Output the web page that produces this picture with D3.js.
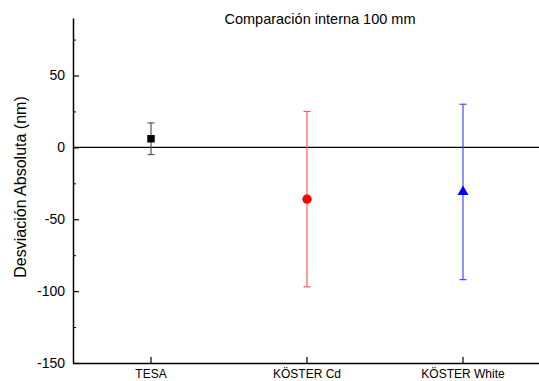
<!DOCTYPE html>
<html>
<head>
<meta charset="utf-8">
<script src="https://cdn.jsdelivr.net/npm/d3@7"></script>
<style>
  body { margin: 0; background: #fff; }
  text { font-family: "Liberation Sans", Arial, sans-serif; }
</style>
</head>
<body>
<div id="rootDiv"></div>
<script>
const categories = ["TESA", "KÖSTER Cd", "KÖSTER White"]
const values = [6, -36, -31]
const errors = [11, 61, 61]
const markerColors = ["#000000", "#ff0000", "#0000ff"]
const errorColors = ["#555555", "#ff5a5a", "#4a4aff"]
const yTicks = [-150, -100, -50, 0, 50]
const yMinorTicks = [-125, -75, -25, 25, 75]

const width = 539
const height = 381
const margin = { top: 18, right: -2, bottom: 18, left: 73 }

const svg = d3.select(document.getElementById("rootDiv"))
    .append("svg")
    .attr("width", width)
    .attr("height", height)

const x = d3.scaleBand()
    .domain(categories)
    .range([margin.left, width - margin.right])

const y = d3.scaleLinear()
    .domain([-150, 90])
    .range([height - margin.bottom, margin.top])

// zero line
svg.append("line")
    .attr("x1", margin.left).attr("x2", width)
    .attr("y1", y(0)).attr("y2", y(0))
    .attr("stroke", "#000").attr("stroke-width", 1.2)

// Y-axis
const yAxis = svg.append("g")
    .attr("transform", `translate(${margin.left},0)`)
    .call(d3.axisLeft(y).tickValues(yTicks).tickSizeInner(-6).tickSizeOuter(0).tickPadding(8)
        .tickFormat(d => String(d)))
yAxis.selectAll("text").style("font-size", "14px")

svg.append("g")
    .attr("transform", `translate(${margin.left},0)`)
    .call(d3.axisLeft(y).tickValues(yMinorTicks).tickSizeInner(-3).tickSizeOuter(0).tickFormat(""))
    .select(".domain").remove()

// X-axis
const xAxis = svg.append("g")
    .attr("transform", `translate(0,${height - margin.bottom})`)
    .call(d3.axisBottom(x).tickSizeInner(-6).tickSizeOuter(0).tickPadding(6))
xAxis.selectAll("text").style("font-size", "12px")

for (const axis of [xAxis, yAxis]) {
    axis.select(".domain").attr("stroke-width", 1.5)
    axis.selectAll("line").attr("stroke-width", 1.2)
}

const cx = d => x(d) + x.bandwidth() / 2

// error bars
const eb = svg.selectAll("g.err")
    .data(categories)
    .enter()
    .append("g")
    .attr("class", "err")
    .attr("stroke", (_d, i) => errorColors[i])
    .attr("stroke-width", 1.2)
eb.append("line")
    .attr("x1", cx).attr("x2", cx)
    .attr("y1", (_d, i) => y(values[i] + errors[i]))
    .attr("y2", (_d, i) => y(values[i] - errors[i]))
for (const s of [1, -1]) {
    eb.append("line")
        .attr("x1", d => cx(d) - 3.5).attr("x2", d => cx(d) + 3.5)
        .attr("y1", (_d, i) => y(values[i] + s * errors[i]))
        .attr("y2", (_d, i) => y(values[i] + s * errors[i]))
}

// markers
const shapes = [d3.symbolSquare, d3.symbolCircle, d3.symbolTriangle]
const sizes = [56, 68, 52]
svg.selectAll("path.marker")
    .data(categories)
    .enter()
    .append("path")
    .attr("class", "marker")
    .attr("transform", (d, i) => `translate(${cx(d)},${y(values[i])})`)
    .attr("d", (_d, i) => d3.symbol().type(shapes[i]).size(sizes[i])())
    .attr("fill", (_d, i) => markerColors[i])

// title
svg.append("text")
    .attr("x", 320).attr("y", 24)
    .attr("text-anchor", "middle")
    .style("font-size", "14.5px")
    .text("Comparación interna 100 mm")

// y label
svg.append("text")
    .attr("transform", `translate(26,187) rotate(-90)`)
    .attr("text-anchor", "middle")
    .style("font-size", "16px")
    .text("Desviación Absoluta (nm)")
</script>
</body>
</html>
